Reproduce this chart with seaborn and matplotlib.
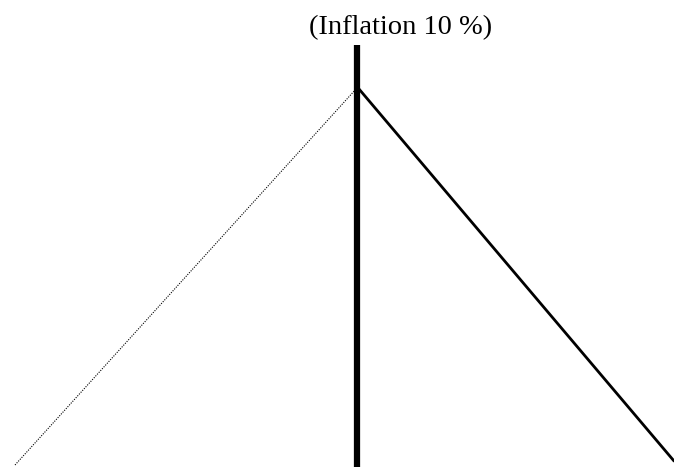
import numpy as np
import pandas as pd
import matplotlib.pyplot as plt
import seaborn as sns

# diagram units (pixel-like scale, y upward)
title = '(Inflation 10 %)'

axis_x = [357, 357]
axis_y = [0, 422]

left_x = [15, 356]
left_y = [2, 378]

right_x = [359, 674]
right_y = [378, 6]

sns.set_theme(style='white')
plt.rcParams['font.family'] = ['Liberation Serif', 'DejaVu Serif']

fig = plt.figure(figsize=(6.74, 4.67), dpi=100)
ax = fig.add_axes([0, 0, 1, 1])

df_left = pd.DataFrame({'x': left_x, 'y': left_y})
df_right = pd.DataFrame({'x': right_x, 'y': right_y})
df_axis = pd.DataFrame({'x': axis_x, 'y': axis_y})

sns.lineplot(data=df_left, x='x', y='y', ax=ax, color='black', linewidth=0.8,
             linestyle=(0, (1, 1.2)), sort=False, estimator=None)
sns.lineplot(data=df_right, x='x', y='y', ax=ax, color='black', linewidth=2,
             sort=False, estimator=None)
sns.lineplot(data=df_axis, x='x', y='y', ax=ax, color='black', linewidth=4.5,
             sort=False, estimator=None, solid_capstyle='butt')

ax.set_xlim(0, 674)
ax.set_ylim(0, 467)
ax.axis('off')

ax.text(401, 433, title, fontsize=20.5, ha='center', va='baseline', color='black')

plt.savefig('out.png', dpi=100)
